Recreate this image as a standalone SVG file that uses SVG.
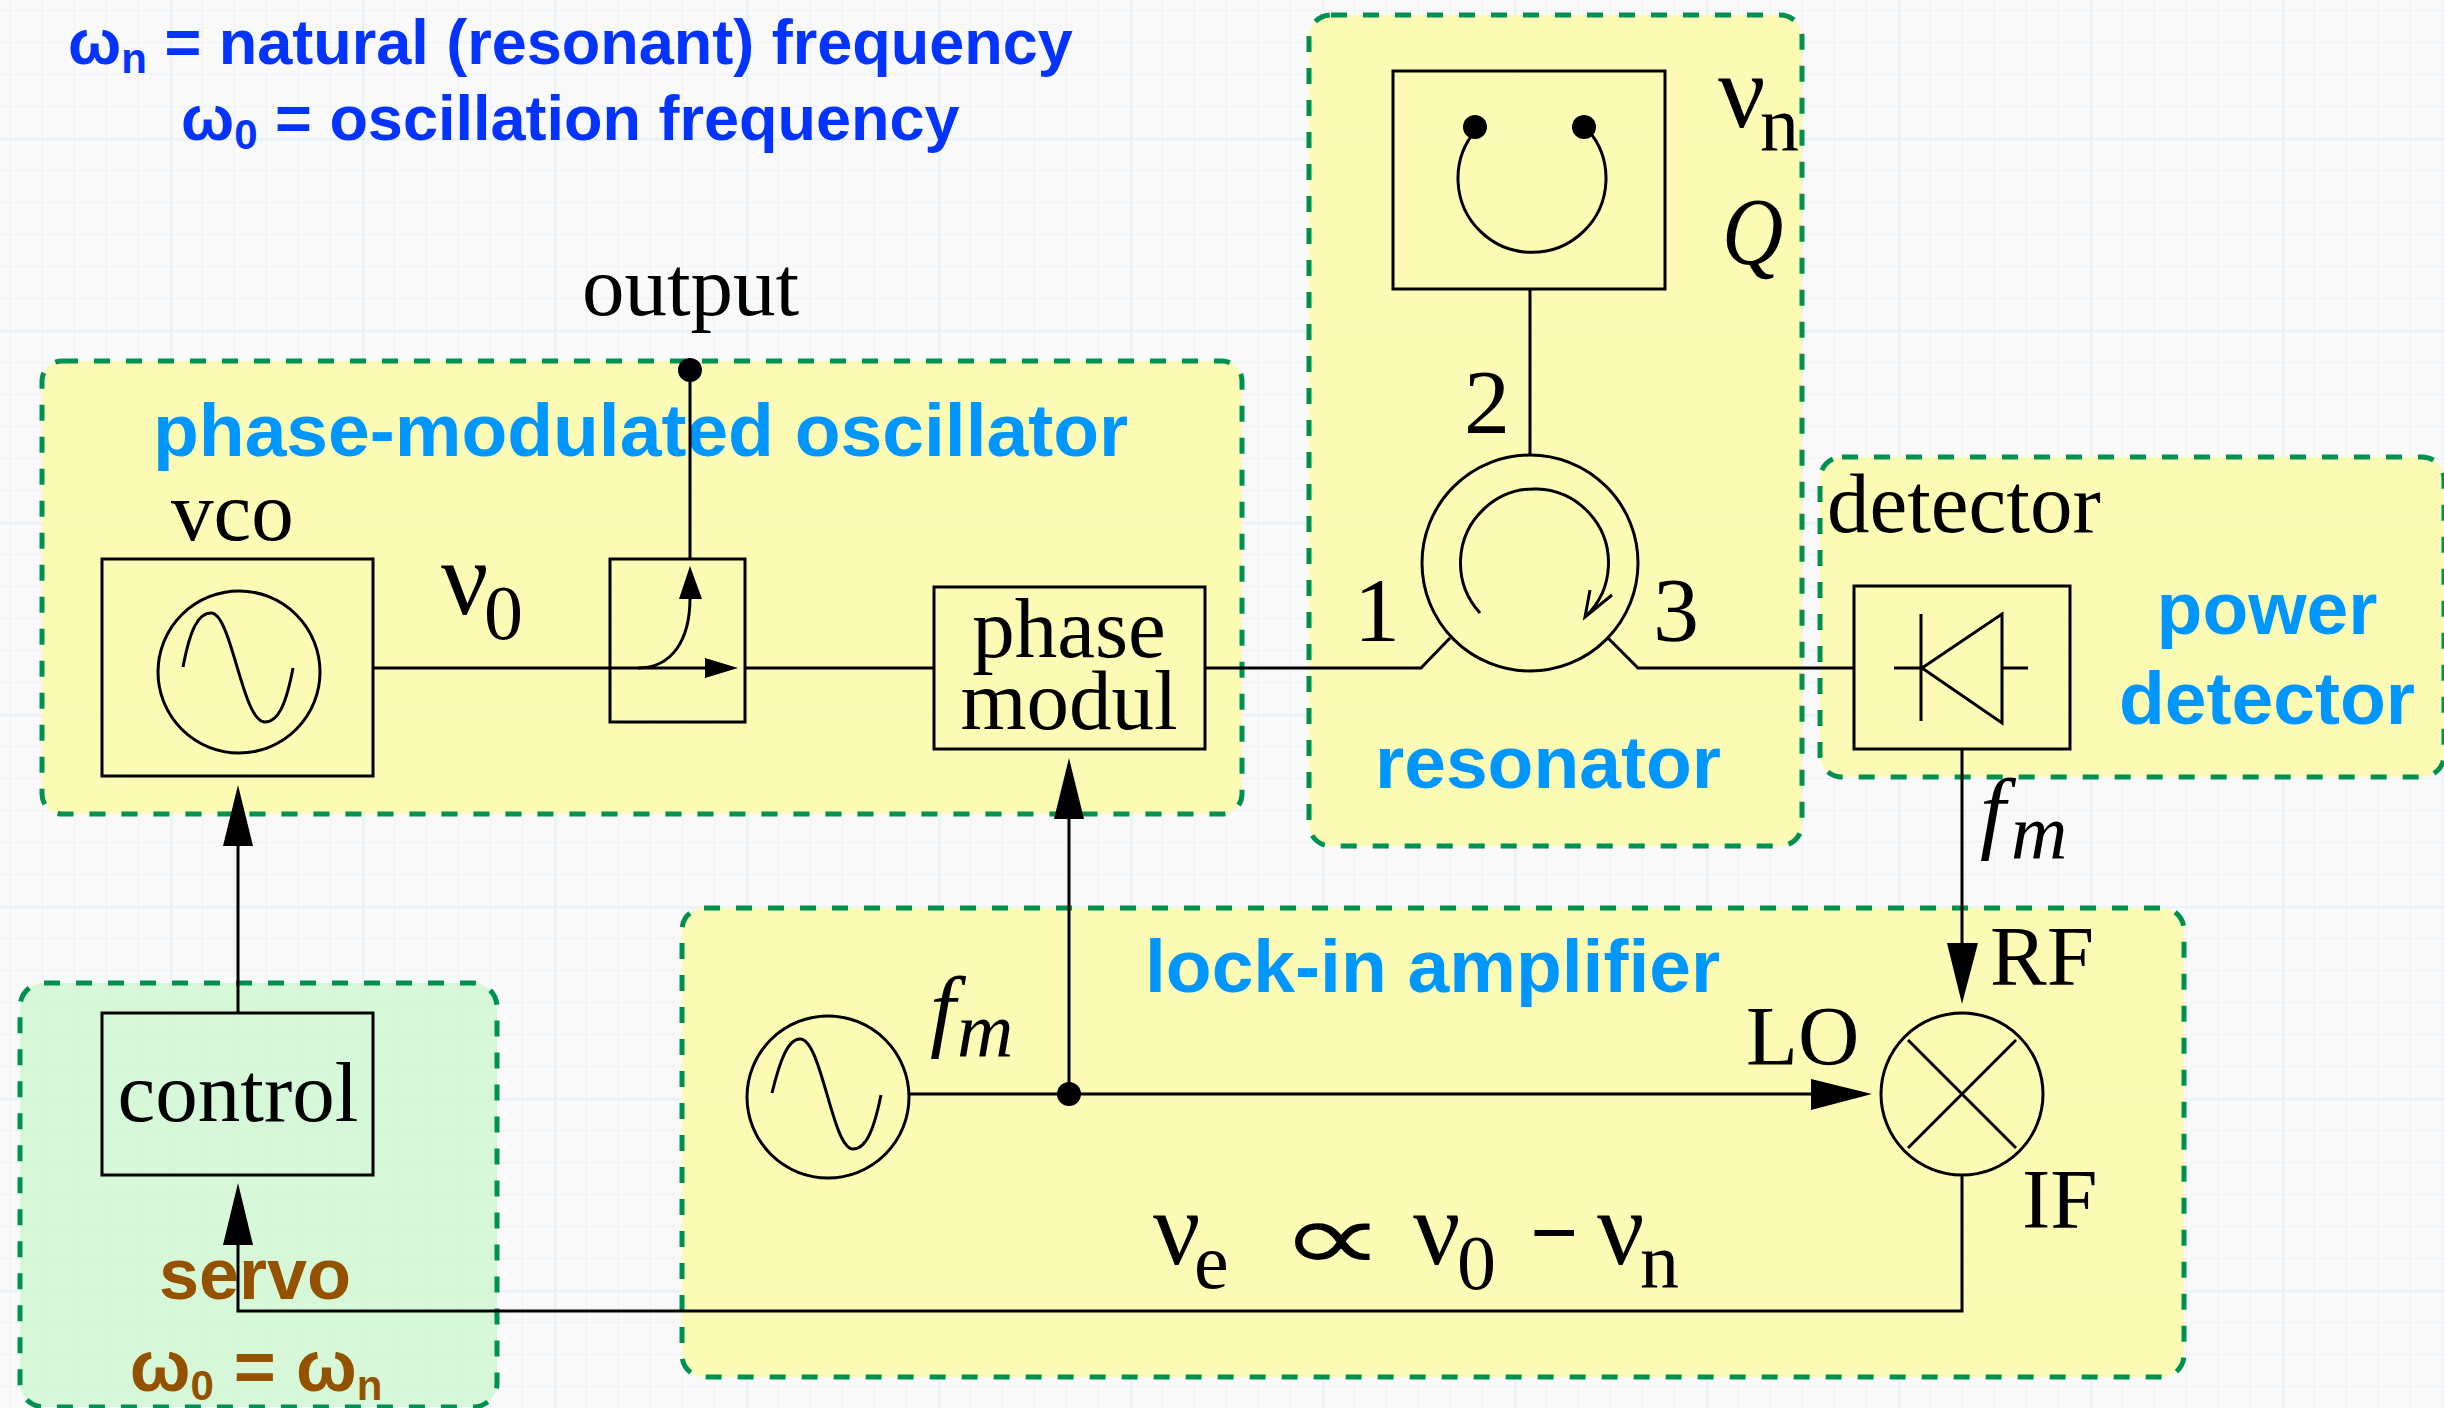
<svg xmlns="http://www.w3.org/2000/svg" width="2444" height="1408" viewBox="0 0 2444 1408">
<style>
.r{fill:#fcfaac;fill-opacity:.88;stroke:#009051;stroke-width:5;stroke-dasharray:16 16}
.g{fill:#d0f7d4;fill-opacity:.88}
.b{fill:none;stroke:#000;stroke-width:3}
.w{fill:none;stroke:#000;stroke-width:3}
.d{fill:#000;stroke:none}
.t{font-family:"Liberation Serif",serif;font-size:85px;fill:#000}
.i{font-style:italic}
.v{font-size:105px}
.s{font-size:78px}
.k{font-size:92px}
.h{font-family:"Liberation Sans",Arial,sans-serif;font-weight:700;font-size:75px}
.c{fill:#0096ff}.u{fill:#0433ff;font-size:63px}.n{fill:#945200;font-size:72px}
.sub{font-size:42px}
</style>
<defs>
<pattern id="grid" x="10" y="10" width="32" height="32" patternUnits="userSpaceOnUse"><path d="M32 0H0V32" fill="none" stroke="#ebf3f6" stroke-width="2"/></pattern>
<pattern id="grid2" x="170" y="138" width="192" height="192" patternUnits="userSpaceOnUse"><path d="M192 0H0V192" fill="none" stroke="#e8f2f7" stroke-width="5"/></pattern>
</defs>
<rect width="2444" height="1408" fill="#f9f9f9"/>
<rect width="2444" height="1408" fill="url(#grid)"/>
<rect width="2444" height="1408" fill="url(#grid2)"/>

<g id="region-oscillator"><rect class="r" x="42" y="361" width="1200" height="453" rx="20"/></g>
<g id="region-resonator"><rect class="r" x="1309" y="15" width="493" height="831" rx="22"/></g>
<g id="region-detector"><rect class="r" x="1820" y="457" width="624" height="320" rx="22"/></g>
<g id="region-lockin"><rect class="r" x="682" y="908" width="1502" height="469" rx="22"/></g>
<g id="region-servo"><rect class="r g" x="20" y="983" width="477" height="424" rx="24"/></g>

<g id="headings">
<text class="h u" x="68" y="64">ω<tspan class="sub" dy="9">n</tspan><tspan dy="-9"> = natural (resonant) frequency</tspan></text>
<text class="h u" x="181" y="140">ω<tspan class="sub" dy="9">0</tspan><tspan dy="-9"> = oscillation frequency</tspan></text>
<text class="h c" x="153" y="456">phase-modulated oscillator</text>
<text class="h c" x="1375" y="788">resonator</text>
<text class="h c" x="2267" y="634" text-anchor="middle">power</text>
<text class="h c" x="2267" y="724" text-anchor="middle">detector</text>
<text class="h c" x="1145" y="992">lock-in amplifier</text>
<text class="h n" x="255" y="1299" text-anchor="middle">servo</text>
<text class="h n" x="256" y="1391" text-anchor="middle">ω<tspan class="sub" dy="9">0</tspan><tspan dy="-9"> = ω</tspan><tspan class="sub" dy="9">n</tspan></text>
</g>

<g id="connectors">
<path class="w" d="M690 370V559M373 668H705M745 668H934M1205 668H1421L1450 638M1608 638L1638 668H1854M1530 289V454M1962 749V945M909 1094H1815M1069 1094V815M238 1013V845M1962 1176V1311H238V1240"/>
<path class="d" d="M238 785L253 846H223ZM1069 758L1084 819H1054ZM1962 1004L1947 943H1978ZM1872 1094L1811 1079V1110ZM238 1183L253 1245H223Z"/>
<circle class="d" cx="690" cy="370" r="12"/>
<circle class="d" cx="1069" cy="1094" r="12"/>
</g>

<g id="vco"><rect class="b" x="102" y="559" width="271" height="217"/><circle class="b" cx="239" cy="672" r="81"/><path class="w" d="M183 667C190 630 198 613 211 613C232 613 242 722 265 722C278 722 286 705 293 668"/></g>
<g id="coupler"><rect class="b" x="610" y="559" width="135" height="163"/><path class="w" d="M638 668C672 668 690 640 690 598"/><path class="d" d="M690 566L702 599H679ZM738 668L705 658V678Z"/></g>
<g id="phase-modul"><rect class="b" x="934" y="587" width="271" height="162"/><text class="t" x="1069" y="657" text-anchor="middle">phase</text><text class="t" x="1069" y="729" text-anchor="middle">modul</text></g>
<g id="resonator"><rect class="b" x="1393" y="71" width="272" height="218"/><path class="w" d="M1476 130A74 74 0 1 0 1588 130"/><circle class="d" cx="1475" cy="127" r="12"/><circle class="d" cx="1584" cy="127" r="12"/></g>
<g id="circulator"><circle class="b" cx="1530" cy="563" r="108"/><path class="w" d="M1480 613A74 74 0 1 1 1585 617M1612 595L1585 617L1590 590"/></g>
<g id="diode"><rect class="b" x="1854" y="586" width="216" height="163"/><path class="w" d="M1894 668H1922M1921 614V721M1922 668L2002 614V723ZM2002 668H2028"/></g>
<g id="control"><rect class="b" x="102" y="1013" width="271" height="162"/><text class="t" x="238" y="1121" text-anchor="middle">control</text></g>
<g id="lo-osc"><circle class="b" cx="828" cy="1097" r="81"/><path class="w" d="M772 1093C780 1060 788 1039 800 1039C822 1039 832 1149 853 1149C866 1149 874 1130 881 1095"/></g>
<g id="mixer"><circle class="b" cx="1962" cy="1094" r="81"/><path class="w" d="M1908 1040L2016 1148M2016 1040L1908 1148"/></g>

<g id="labels">
<text class="t" x="582" y="315">output</text>
<text class="t" x="171" y="540">vco</text>
<text class="t v" x="441" y="614">ν</text><text class="t s" x="484" y="639">0</text>
<text class="t v" x="1718" y="127">ν</text><text class="t s" x="1760" y="151">n</text>
<text class="t i" transform="translate(1722 264) scale(1 1.12)">Q</text>
<text class="t k" x="1464" y="433">2</text>
<text class="t k" x="1354" y="641">1</text>
<text class="t k" x="1653" y="641">3</text>
<text class="t" x="1827" y="532">detector</text>
<text class="t i k" x="1980" y="842">f</text><text class="t i s" x="2011" y="859">m</text>
<text class="t i k" x="930" y="1040">f</text><text class="t i s" x="957" y="1057">m</text>
<text class="t" x="1990" y="985">RF</text>
<text class="t" x="1746" y="1065">LO</text>
<text class="t" x="2022" y="1228">IF</text>
<text class="t v" x="1153" y="1264">ν</text><text class="t s" x="1194" y="1288">e</text>
<text class="t" transform="translate(1279 1271) scale(1.75 1.15)">∝</text>
<text class="t v" x="1413" y="1264">ν</text><text class="t s" x="1457" y="1289">0</text>
<text class="t" x="1530" y="1261" font-weight="700">−</text>
<text class="t v" x="1597" y="1264">ν</text><text class="t s" x="1640" y="1288">n</text>
</g>
</svg>
